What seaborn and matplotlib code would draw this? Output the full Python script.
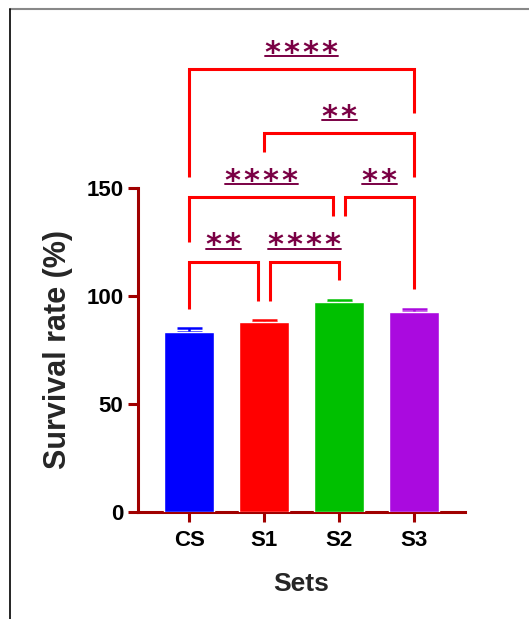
import numpy as np
import seaborn as sns
import matplotlib.pyplot as plt
from matplotlib.lines import Line2D

sets = ["CS", "S1", "S2", "S3"]
survival = [83.5, 87.8, 97.0, 92.7]
sem = [1.7, 1.2, 1.2, 1.2]
bar_colors = ["#0000FF", "#FF0000", "#00C000", "#AA0ADF"]

# multiple comparisons
comp_left = ["CS", "S1", "CS", "S2", "S1", "CS"]
comp_right = ["S1", "S2", "S2", "S3", "S3", "S3"]
comp_stars = ["**", "****", "****", "**", "**", "****"]
comp_top = [115.8, 115.8, 145.6, 145.6, 175.2, 204.9]
comp_left_end = [94.0, 97.8, 125.0, 136.9, 166.6, 155.1]
comp_right_end = [97.8, 107.3, 136.9, 103.0, 155.1, 184.7]

axis_red = "#A00000"
bracket_red = "#FF0000"
star_color = "#7A0044"

sns.set_style("ticks")
plt.rcParams["font.family"] = ["Liberation Sans", "DejaVu Sans"]
plt.rcParams["font.weight"] = "bold"

fig = plt.figure(figsize=(5.29, 6.19), dpi=100)
ax = fig.add_axes([0.2609, 0.1724, 0.6181, 0.7866])

sns.barplot(x=sets, y=survival, hue=sets, palette=bar_colors, width=0.667,
            saturation=1, errorbar=None, legend=False, ax=ax, zorder=3)

for i, (m, e, c) in enumerate(zip(survival, sem, bar_colors)):
    ax.errorbar(i, m, yerr=[[0], [e]], fmt="none", ecolor=c, elinewidth=1.8,
                capsize=9, capthick=1.8, zorder=2)

ax.set_xlim(-0.684, 3.676)
ax.set_ylim(0, 225)
ax.set_yticks([0, 50, 100, 150])
ax.spines["left"].set_bounds(0, 150)
sns.despine(ax=ax)
for side in ["left", "bottom"]:
    ax.spines[side].set_color(axis_red)
    ax.spines[side].set_linewidth(2.2)
ax.tick_params(axis="both", colors=axis_red, width=2.2, length=7,
               labelcolor="black", labelsize=16)
ax.tick_params(axis="y", pad=3.5)
ax.tick_params(axis="x", pad=6)
for lab in ax.get_xticklabels() + ax.get_yticklabels():
    lab.set_fontweight("bold")

ax.set_xlabel("Sets", fontsize=19, fontweight="bold", labelpad=15)
ax.set_ylabel("Survival rate (%)", fontsize=22, fontweight="bold")
ax.yaxis.set_label_coords(-0.20, 75 / 225)

# brackets, nudged where two share an end at the same level
pos = {s: i for i, s in enumerate(sets)}
nudge = 0.08
texts = []
for k, (a, b, st, top, le, re) in enumerate(zip(comp_left, comp_right, comp_stars,
                                                 comp_top, comp_left_end, comp_right_end)):
    x1, x2 = pos[a], pos[b]
    for j in range(len(comp_left)):
        if j != k and comp_top[j] == top:
            if comp_left[j] == b:
                x2 -= nudge
            if comp_right[j] == a:
                x1 += nudge
    ax.plot([x1, x1, x2, x2], [le, top, top, re], color=bracket_red, lw=2.2,
            clip_on=False, solid_joinstyle="miter", solid_capstyle="butt")
    t = ax.annotate("\u200a".join(st), xy=((x1 + x2) / 2, top), xytext=(0, 5.3),
                    textcoords="offset points", ha="center", va="baseline",
                    fontsize=22, fontfamily="DejaVu Sans", fontweight="bold",
                    color=star_color, annotation_clip=False)
    texts.append((t, top))

fig.canvas.draw()
inv = ax.transData.inverted()
for t, top in texts:
    bb = t.get_window_extent()
    xa = inv.transform((bb.x0, 0))[0]
    xb = inv.transform((bb.x1, 0))[0]
    ax.plot([xa, xb], [top + 6.0, top + 6.0], color=star_color, lw=1.4,
            clip_on=False)

# screenshot frame
fig.add_artist(Line2D([10 / 529, 1], [1 - 9 / 619] * 2, transform=fig.transFigure,
                      color="#888888", lw=1.5))
fig.add_artist(Line2D([10 / 529] * 2, [0, 1 - 9 / 619], transform=fig.transFigure,
                      color="black", lw=1.2))

fig.savefig("out.png", dpi=100)
